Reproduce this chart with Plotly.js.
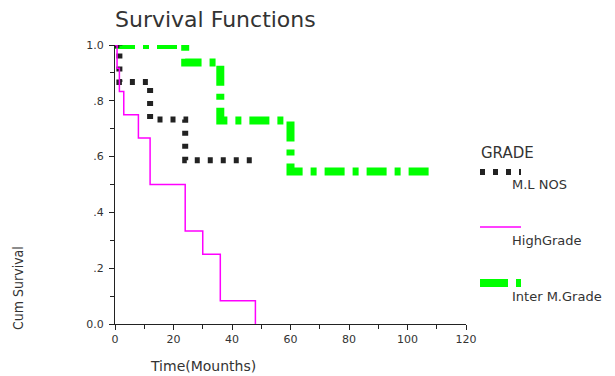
<!DOCTYPE html>
<html>
<head>
<meta charset="utf-8">
<script src="https://cdn.plot.ly/plotly-3.0.1.min.js"></script>
<style>html,body{margin:0;padding:0;background:#fff;}#chart{width:615px;height:376px;}</style>
</head>
<body>
<div id="chart"></div>
<script>
// Kaplan-Meier survival estimates
const groupNames = ["M.L NOS", "HighGrade", "Inter M.Grade"];
const mlTime = [0, 1.5, 12, 24, 47];
const mlSurv = [1.0, 0.867, 0.733, 0.587, 0.587];
const highTime = [0, 0.7, 1.5, 3, 8, 12, 24, 30, 36, 48];
const highSurv = [1.0, 0.917, 0.833, 0.75, 0.667, 0.5, 0.333, 0.25, 0.083, 0.0];
const interTime = [0, 24, 36, 60, 108];
const interSurv = [1.0, 0.9375, 0.729, 0.547, 0.547];
const xTicks = [0, 20, 40, 60, 80, 100, 120];
const yTickVals = [0, 0.2, 0.4, 0.6, 0.8, 1.0];
const yTickText = ["0.0", ".2", ".4", ".6", ".8", "1.0"];

const W = 615, H = 376;
const L = 115, R = 466, T = 45, B = 324;
const px = x => (x - L) / (R - L);
const py = y => (B - y) / (B - T);

const traces = [
  {x: interTime, y: interSurv, name: groupNames[2], mode: 'lines', line: {shape: 'hv', color: '#00ff00', width: 8, dash: '20px,8px,6px,8px'}, cliponaxis: false},
  {x: mlTime, y: mlSurv, name: groupNames[0], mode: 'lines', line: {shape: 'hv', color: '#222222', width: 6, dash: '5px,8px'}, cliponaxis: false},
  {x: highTime, y: highSurv, name: groupNames[1], mode: 'lines', line: {shape: 'hv', color: '#ff00ff', width: 1.5}, cliponaxis: false}
];

const dv = 'DejaVu Sans, sans-serif';
const legFont = {family: dv, size: 13, color: '#333'};
const annotations = [
  {text: 'Survival Functions', xref: 'paper', yref: 'paper', x: px(113), y: py(20), xanchor: 'left', yanchor: 'middle', showarrow: false, font: {family: dv, size: 22, color: '#333'}},
  {text: 'Cum Survival', xref: 'paper', yref: 'paper', x: px(18), y: py(288), xanchor: 'center', yanchor: 'middle', textangle: -90, showarrow: false, font: {family: 'Liberation Sans Narrow, DejaVu Sans Condensed, Roboto Condensed, sans-serif', size: 14, color: '#333'}},
  {text: 'Time(Mounths)', xref: 'paper', yref: 'paper', x: px(148), y: py(366), xanchor: 'left', yanchor: 'middle', showarrow: false, font: {family: dv, size: 14, color: '#333'}},
  {text: 'GRADE', xref: 'paper', yref: 'paper', x: px(479), y: py(153), xanchor: 'left', yanchor: 'middle', showarrow: false, font: {family: dv, size: 15, color: '#333'}},
  {text: groupNames[0], xref: 'paper', yref: 'paper', x: px(510), y: py(184), xanchor: 'left', yanchor: 'middle', showarrow: false, font: legFont},
  {text: groupNames[1], xref: 'paper', yref: 'paper', x: px(510), y: py(240), xanchor: 'left', yanchor: 'middle', showarrow: false, font: legFont},
  {text: groupNames[2], xref: 'paper', yref: 'paper', x: px(510), y: py(296), xanchor: 'left', yanchor: 'middle', showarrow: false, font: legFont}
];

const shapes = [
  {type: 'line', xref: 'paper', yref: 'paper', x0: px(480), x1: px(521), y0: py(172), y1: py(172), line: {color: '#222222', width: 6, dash: '5px,8px'}},
  {type: 'line', xref: 'paper', yref: 'paper', x0: px(480), x1: px(521), y0: py(227), y1: py(227), line: {color: '#ff00ff', width: 1.5}},
  {type: 'line', xref: 'paper', yref: 'paper', x0: px(480), x1: px(521), y0: py(283), y1: py(283), line: {color: '#00ff00', width: 8, dash: '28px,8px,6px,8px'}}
];

const tickFont = {family: dv, size: 11, color: '#333'};
const layout = {
  width: W, height: H,
  margin: {l: L, r: W - R, t: T, b: H - B, pad: 0},
  paper_bgcolor: '#fff', plot_bgcolor: '#fff',
  showlegend: false,
  xaxis: {range: [0, 120], tickvals: xTicks, ticks: 'outside', ticklen: 5, tickcolor: '#222', showline: true, linecolor: '#222', linewidth: 1, showgrid: false, zeroline: false, tickfont: tickFont,
          minor: {dtick: 10, tick0: 0, ticks: 'outside', ticklen: 4, tickcolor: '#222', showgrid: false}},
  yaxis: {range: [0, 1], tickvals: yTickVals, ticktext: yTickText, ticks: 'outside', ticklen: 5, tickcolor: '#222', showline: true, linecolor: '#222', linewidth: 1, showgrid: false, zeroline: false, tickfont: tickFont, ticklabelstandoff: 3,
          minor: {dtick: 0.1, tick0: 0, ticks: 'outside', ticklen: 4, tickcolor: '#222', showgrid: false}},
  annotations: annotations,
  shapes: shapes
};

Plotly.newPlot('chart', traces, layout, {displayModeBar: false, staticPlot: true});
</script>
</body>
</html>
